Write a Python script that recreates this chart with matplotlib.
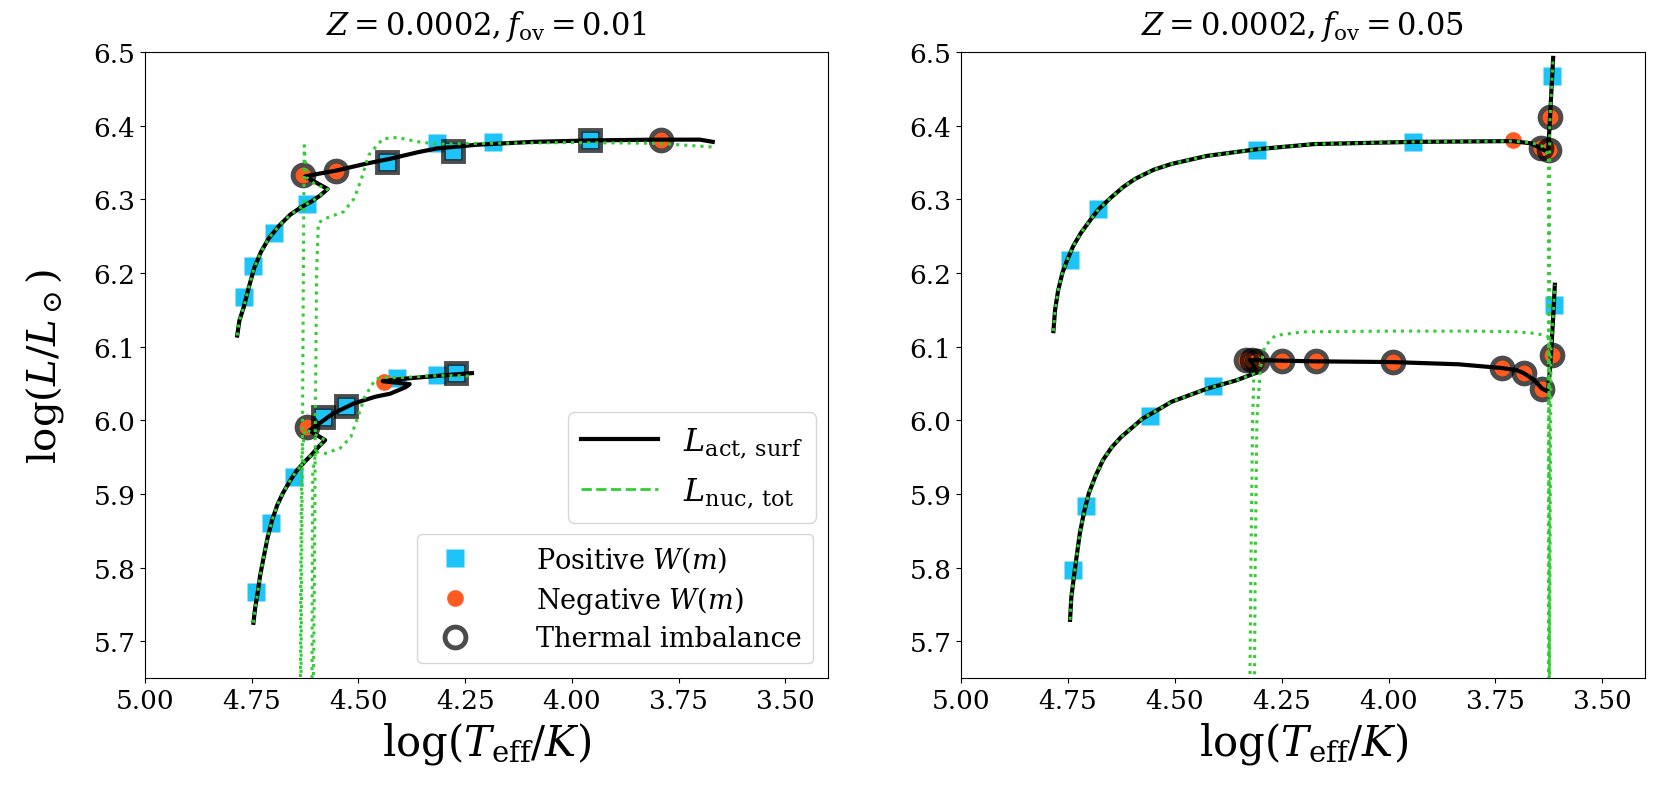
import matplotlib
matplotlib.use('Agg')
import matplotlib.pyplot as plt
from matplotlib.lines import Line2D

plt.rcParams['font.family'] = 'DejaVu Serif'
plt.rcParams['mathtext.fontset'] = 'dejavuserif'

BLUE = '#1ec3f8'
ORANGE = '#ff5a1f'
GREEN = 'limegreen'

# ---------------- left panel: Z=0.0002, fov=0.01 ----------------
l1_act_x = [4.784, 4.779, 4.769, 4.757, 4.744, 4.728, 4.710, 4.686, 4.660, 4.635, 4.610, 4.590,
            4.572, 4.625, 4.600, 4.552, 4.485, 4.426, 4.360, 4.317, 4.260, 4.225, 4.091, 3.950,
            3.800, 3.700, 3.670]
l1_act_y = [6.115, 6.135, 6.153, 6.180, 6.207, 6.229, 6.247, 6.264, 6.279, 6.289, 6.297, 6.305,
            6.314, 6.331, 6.334, 6.339, 6.348, 6.355, 6.364, 6.369, 6.372, 6.374, 6.378, 6.380,
            6.381, 6.381, 6.378]
l1_nuc_x = [4.784, 4.779, 4.769, 4.757, 4.744, 4.728, 4.710, 4.686, 4.660, 4.635, 4.610, 4.590,
            4.572, 4.600, 4.622, 4.627, 4.628, 4.631, 4.633, 4.635, 4.606, 4.603, 4.601, 4.598,
            4.594, 4.577, 4.535, 4.510, 4.493, 4.476, 4.443, 4.409, 4.359, 4.317, 4.200, 4.000,
            3.800, 3.670]
l1_nuc_y = [6.115, 6.135, 6.153, 6.180, 6.207, 6.229, 6.247, 6.264, 6.279, 6.289, 6.297, 6.305,
            6.314, 6.320, 6.330, 6.373, 6.300, 6.000, 5.800, 5.600, 5.600, 5.800, 6.000, 6.200,
            6.268, 6.274, 6.283, 6.301, 6.328, 6.360, 6.382, 6.384, 6.378, 6.375, 6.376, 6.377,
            6.376, 6.371]

l2_act_x = [4.746, 4.742, 4.736, 4.730, 4.723, 4.713, 4.702, 4.690, 4.677, 4.660, 4.644, 4.627,
            4.610, 4.595, 4.578, 4.615, 4.593, 4.560, 4.510, 4.460, 4.426, 4.389, 4.380, 4.443,
            4.400, 4.300, 4.234]
l2_act_y = [5.725, 5.745, 5.766, 5.790, 5.811, 5.840, 5.865, 5.885, 5.901, 5.918, 5.932, 5.943,
            5.953, 5.963, 5.973, 5.986, 5.995, 6.009, 6.023, 6.032, 6.036, 6.045, 6.049, 6.053,
            6.056, 6.061, 6.064]
l2_nuc_x = [4.746, 4.742, 4.736, 4.730, 4.723, 4.713, 4.702, 4.690, 4.677, 4.660, 4.644, 4.627,
            4.610, 4.595, 4.578, 4.600, 4.625, 4.633, 4.635, 4.636, 4.609, 4.608, 4.607, 4.600,
            4.577, 4.543, 4.518, 4.501, 4.485, 4.460, 4.440, 4.400, 4.300, 4.234]
l2_nuc_y = [5.725, 5.745, 5.766, 5.790, 5.811, 5.840, 5.865, 5.885, 5.901, 5.918, 5.932, 5.943,
            5.953, 5.963, 5.973, 5.980, 5.988, 5.950, 5.800, 5.600, 5.600, 5.800, 5.930, 5.957,
            5.955, 5.962, 5.977, 6.005, 6.032, 6.056, 6.058, 6.058, 6.061, 6.060]

l_pos_x = [4.769, 4.746, 4.698, 4.621, 4.432, 4.317, 4.278, 4.185, 3.958,
           4.739, 4.704, 4.650, 4.583, 4.528, 4.409, 4.317, 4.271]
l_pos_y = [6.167, 6.209, 6.254, 6.293, 6.351, 6.377, 6.366, 6.378, 6.381,
           5.767, 5.861, 5.923, 6.005, 6.019, 6.058, 6.062, 6.064]
l_neg_x = [4.631, 4.552, 3.792, 4.620, 4.439]
l_neg_y = [6.333, 6.338, 6.381, 5.991, 6.052]
l_thsq_x = [4.432, 4.278, 3.958, 4.583, 4.528, 4.271]
l_thsq_y = [6.351, 6.366, 6.381, 6.005, 6.019, 6.064]
l_thci_x = [4.631, 4.552, 3.792, 4.620]
l_thci_y = [6.333, 6.338, 6.381, 5.991]

# ---------------- right panel: Z=0.0002, fov=0.05 ----------------
r1_act_x = [4.784, 4.780, 4.773, 4.763, 4.752, 4.738, 4.720, 4.700, 4.679, 4.650, 4.620, 4.592,
            4.550, 4.508, 4.424, 4.307, 4.173, 3.938, 3.711, 3.667, 3.640, 3.627, 3.623, 3.619,
            3.615]
r1_act_y = [6.121, 6.150, 6.176, 6.200, 6.217, 6.236, 6.254, 6.270, 6.286, 6.302, 6.317, 6.328,
            6.340, 6.348, 6.359, 6.368, 6.375, 6.378, 6.379, 6.376, 6.368, 6.364, 6.403, 6.448,
            6.492]
r1_nuc_x = [4.784, 4.780, 4.773, 4.763, 4.752, 4.738, 4.720, 4.700, 4.679, 4.650, 4.620, 4.592,
            4.550, 4.508, 4.424, 4.307, 4.173, 3.938, 3.711, 3.667, 3.640, 3.626, 3.625, 3.624,
            3.623, 3.619, 3.615]
r1_nuc_y = [6.121, 6.150, 6.176, 6.200, 6.217, 6.236, 6.254, 6.270, 6.286, 6.302, 6.317, 6.328,
            6.340, 6.348, 6.359, 6.368, 6.375, 6.378, 6.379, 6.377, 6.372, 6.360, 5.600, 6.000,
            6.400, 6.448, 6.492]

r2_act_x = [4.745, 4.742, 4.735, 4.728, 4.722, 4.712, 4.701, 4.685, 4.668, 4.648, 4.626, 4.600,
            4.576, 4.540, 4.508, 4.424, 4.357, 4.307, 4.324, 4.257, 4.173, 3.992, 3.837, 3.737,
            3.700, 3.684, 3.660, 3.641, 3.627, 3.621, 3.615, 3.611]
r2_act_y = [5.729, 5.760, 5.792, 5.822, 5.847, 5.876, 5.901, 5.925, 5.946, 5.963, 5.977, 5.990,
            6.002, 6.014, 6.025, 6.043, 6.054, 6.065, 6.082, 6.081, 6.080, 6.079, 6.076, 6.071,
            6.068, 6.064, 6.055, 6.043, 6.039, 6.080, 6.139, 6.184]
r2_nuc_x = [4.745, 4.742, 4.735, 4.728, 4.722, 4.712, 4.701, 4.685, 4.668, 4.648, 4.626, 4.600,
            4.576, 4.540, 4.508, 4.424, 4.357, 4.315, 4.318, 4.322, 4.325, 4.314, 4.312, 4.308,
            4.300, 4.290, 4.265, 4.200, 4.000, 3.800, 3.700, 3.660, 3.640, 3.625, 3.624, 3.620,
            3.615, 3.611]
r2_nuc_y = [5.729, 5.760, 5.792, 5.822, 5.847, 5.876, 5.901, 5.925, 5.946, 5.963, 5.977, 5.990,
            6.002, 6.014, 6.025, 6.043, 6.054, 6.063, 6.000, 5.800, 5.600, 5.600, 5.800, 6.000,
            6.070, 6.100, 6.115, 6.120, 6.121, 6.121, 6.120, 6.118, 6.116, 6.113, 5.600, 6.100,
            6.139, 6.184]

r_pos_x = [4.745, 4.679, 4.307, 3.942, 3.617, 4.737, 4.708, 4.557, 4.410, 3.613]
r_pos_y = [6.218, 6.287, 6.367, 6.378, 6.468, 5.797, 5.883, 6.006, 6.047, 6.156]
r_neg_x = [3.710, 3.623, 3.643, 3.625,
           4.333, 4.320, 4.307, 4.250, 4.170, 3.990, 3.735, 3.684, 3.641, 3.617]
r_neg_y = [6.380, 6.412, 6.369, 6.367,
           6.082, 6.082, 6.081, 6.081, 6.080, 6.079, 6.071, 6.064, 6.042, 6.089]
r_thci_x = r_neg_x[1:]
r_thci_y = r_neg_y[1:]

xticks = [5.00, 4.75, 4.50, 4.25, 4.00, 3.75, 3.50]
yticks = [5.7, 5.8, 5.9, 6.0, 6.1, 6.2, 6.3, 6.4, 6.5]


def draw_panel(ax, tracks, pos, neg, thsq, thci, title):
    ax.plot(pos[0], pos[1], 's', color=BLUE, ms=13, mec='none', zorder=2)
    ax.plot(neg[0], neg[1], 'o', color=ORANGE, ms=12, mec='none', zorder=2)
    if thsq:
        ax.plot(thsq[0], thsq[1], 's', mfc='none', mec='k', mew=3.5, ms=15, alpha=0.7, zorder=3)
    ax.plot(thci[0], thci[1], 'o', mfc='none', mec='k', mew=3.5, ms=15, alpha=0.7, zorder=3)
    for (ax_x, ax_y, nx, ny) in tracks:
        ax.plot(ax_x, ax_y, color='k', lw=3, zorder=4)
        ax.plot(nx, ny, color=GREEN, ls=':', lw=2.2, zorder=5)
    ax.set_xlim(5.0, 3.4)
    ax.set_ylim(5.65, 6.5)
    ax.set_xticks(xticks)
    ax.set_xticklabels(['%.2f' % t for t in xticks])
    ax.set_yticks(yticks)
    ax.set_yticklabels(['%.1f' % t for t in yticks])
    ax.tick_params(labelsize=19)
    ax.set_xlabel(r'$\log(T_{\rm eff}/K)$', fontsize=30, labelpad=5)
    ax.set_title(title, fontsize=22, pad=13)


fig = plt.figure(figsize=(16.61, 8.03), dpi=100)
ax1 = fig.add_axes([0.0873, 0.1544, 0.4112, 0.7796])
ax2 = fig.add_axes([0.5786, 0.1544, 0.4118, 0.7796])

draw_panel(ax1,
           [(l1_act_x, l1_act_y, l1_nuc_x, l1_nuc_y), (l2_act_x, l2_act_y, l2_nuc_x, l2_nuc_y)],
           (l_pos_x, l_pos_y), (l_neg_x, l_neg_y), (l_thsq_x, l_thsq_y), (l_thci_x, l_thci_y),
           r'$Z=0.0002, f_{\rm ov}=0.01$')
draw_panel(ax2,
           [(r1_act_x, r1_act_y, r1_nuc_x, r1_nuc_y), (r2_act_x, r2_act_y, r2_nuc_x, r2_nuc_y)],
           (r_pos_x, r_pos_y), (r_neg_x, r_neg_y), None, (r_thci_x, r_thci_y),
           r'$Z=0.0002, f_{\rm ov}=0.05$')

ax1.set_ylabel(r'$\log(L/L_\odot)$', fontsize=29, labelpad=20)

# legends
line_handles = [Line2D([], [], color='k', lw=3, label=r'$L_{\rm act,\,surf}$'),
                Line2D([], [], color=GREEN, ls='--', lw=2, label=r'$L_{\rm nuc,\,tot}$')]
leg1 = ax1.legend(handles=line_handles, loc='lower right', bbox_to_anchor=(0.982, 0.248),
                  fontsize=23, handlelength=2.4, borderaxespad=0)
ax1.add_artist(leg1)

mark_handles = [Line2D([], [], ls='none', marker='s', color=BLUE, ms=13, mec='none',
                       label=r'Positive $W(m)$'),
                Line2D([], [], ls='none', marker='o', color=ORANGE, ms=12, mec='none',
                       label=r'Negative $W(m)$'),
                Line2D([], [], ls='none', marker='o', mfc='none', mec='k', mew=3.5, ms=15,
                       alpha=0.7, label='Thermal imbalance')]
ax1.legend(handles=mark_handles, loc='lower right', bbox_to_anchor=(0.978, 0.024),
           fontsize=19.5, borderaxespad=0, labelspacing=0.35, handletextpad=2.0)

plt.savefig('out.png', dpi=100)
